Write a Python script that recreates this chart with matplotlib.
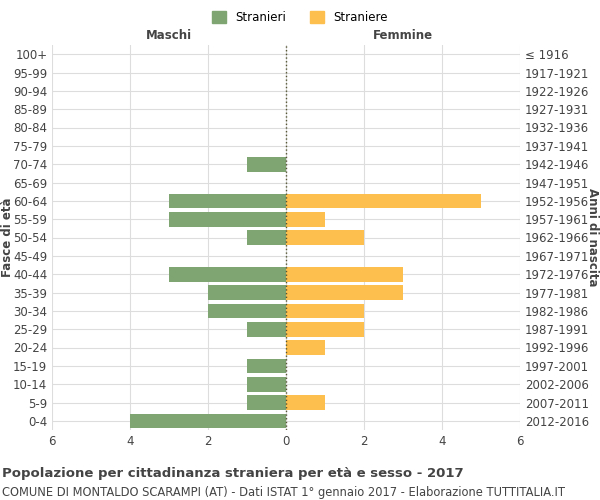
import matplotlib
matplotlib.use("Agg")
import matplotlib.pyplot as plt
from matplotlib.patches import Patch

ages = ["100+","95-99","90-94","85-89","80-84","75-79","70-74","65-69","60-64","55-59","50-54","45-49","40-44","35-39","30-34","25-29","20-24","15-19","10-14","5-9","0-4"]
years = ["≤ 1916","1917-1921","1922-1926","1927-1931","1932-1936","1937-1941","1942-1946","1947-1951","1952-1956","1957-1961","1962-1966","1967-1971","1972-1976","1977-1981","1982-1986","1987-1991","1992-1996","1997-2001","2002-2006","2007-2011","2012-2016"]
males = [0,0,0,0,0,0,1,0,3,3,1,0,3,2,2,1,0,1,1,1,4]
females = [0,0,0,0,0,0,0,0,5,1,2,0,3,3,2,2,1,0,0,1,0]

fig = plt.figure(figsize=(6,5), dpi=100)
ax = fig.add_axes([0.087, 0.14, 0.78, 0.77])
y = list(range(len(ages)))
ax.barh(y, [-m for m in males], height=0.8, color="#7fa572")
ax.barh(y, females, height=0.8, color="#fdbf4d")
ax.set_ylim(len(ages)-0.5, -0.5)
ax.set_xlim(-6, 6)
ax.set_xticks([-6,-4,-2,0,2,4,6])
ax.set_xticklabels(["6","4","2","0","2","4","6"])
ax.set_yticks(y)
ax.set_yticklabels(ages)
ax.grid(True, color="#dddddd", linewidth=0.8)
ax.set_axisbelow(True)
ax.axvline(0, color="#555533", linestyle=":", linewidth=1)
for s in ax.spines.values():
    s.set_visible(False)
ax.tick_params(length=0, labelsize=8.5, colors="#444444")
ax2 = ax.twinx()
ax2.set_ylim(ax.get_ylim())
ax2.set_yticks(y)
ax2.set_yticklabels(years)
ax2.tick_params(length=0, labelsize=8.5, colors="#444444")
for s in ax2.spines.values():
    s.set_visible(False)
fig.text(0.013, 0.525, "Fasce di età", rotation=90, ha="center", va="center", fontsize=8.5, fontweight="bold", color="#444444")
fig.text(0.988, 0.525, "Anni di nascita", rotation=270, ha="center", va="center", fontsize=8.5, fontweight="bold", color="#444444")
ax.text(-3, -0.65, "Maschi", ha="center", va="bottom", fontsize=8.5, fontweight="bold", color="#444444")
ax.text(3, -0.65, "Femmine", ha="center", va="bottom", fontsize=8.5, fontweight="bold", color="#444444")
fig.legend(handles=[Patch(color="#7fa572", label="Stranieri"), Patch(color="#fdbf4d", label="Straniere")],
           loc="upper center", bbox_to_anchor=(0.5, 1.0), ncol=2, frameon=False, fontsize=8.5, handlelength=1.2, handleheight=1.2)
fig.text(0.003, 0.045, "Popolazione per cittadinanza straniera per età e sesso - 2017", fontsize=9.5, fontweight="bold", color="#444444")
fig.text(0.003, 0.008, "COMUNE DI MONTALDO SCARAMPI (AT) - Dati ISTAT 1° gennaio 2017 - Elaborazione TUTTITALIA.IT", fontsize=8.3, color="#444444")
fig.savefig("out.png")
